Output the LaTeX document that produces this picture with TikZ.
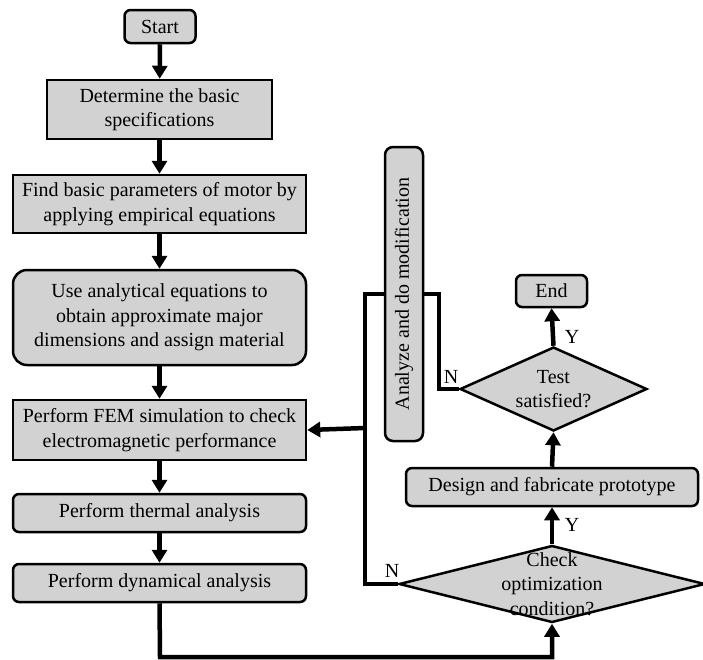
\documentclass[tikz,border=0pt]{standalone}
\usepackage{fontspec}
\setmainfont{Liberation Serif}
\usetikzlibrary{shapes.geometric,arrows.meta}
\definecolor{boxfill}{RGB}{210,210,210}
\begin{document}
\begin{tikzpicture}[x=1pt,y=-1pt,
  every node/.style={font=\fontsize{20}{24.5}\selectfont, align=center, inner sep=0pt},
  sqbox/.style={draw, line width=2.5pt, fill=boxfill},
  rbox/.style={draw, line width=2.5pt, fill=boxfill, rounded corners=6pt},
  dbox/.style={draw, line width=2.5pt, fill=boxfill, diamond},
  conn/.style={line width=4.5pt, -{Triangle[length=13pt,width=15pt]}},
  plain/.style={line width=4.5pt},
  lbl/.style={font=\fontsize{20}{24}\selectfont}]
\useasboundingbox (0,0) rectangle (703,659);
\node[rbox, minimum width=71pt, minimum height=33pt] (start) at (160,26.5) {Start};
\node[sqbox, minimum width=225pt, minimum height=59pt] (spec) at (159.5,109.5) {Determine the basic\\specifications};
\node[sqbox, minimum width=293pt, minimum height=58pt] (param) at (159.5,204) {Find basic parameters of motor by\\applying empirical equations};
\node[rbox, rounded corners=14pt, minimum width=293pt, minimum height=95pt] (anal) at (159.5,317.5) {Use analytical equations to\\obtain approximate major\\dimensions and assign material};
\node[sqbox, minimum width=293pt, minimum height=60pt] (fem) at (159.5,430) {Perform FEM simulation to check\\electromagnetic performance};
\node[rbox, minimum width=293pt, minimum height=38pt] (therm) at (159.5,513) {Perform thermal analysis};
\node[rbox, minimum width=293pt, minimum height=38pt] (dyn) at (159.5,583) {Perform dynamical analysis};
\node[rbox, rounded corners=8pt, minimum width=38pt, minimum height=294pt] (mod) at (404,294) {\rotatebox{90}{Analyze and do modification}};
\node[rbox, minimum width=71pt, minimum height=32pt] (end) at (551.5,291) {End};
\node[dbox, minimum width=187pt, minimum height=84pt] (test) at (553.5,389) {};
\node at (test) {Test\\satisfied?};
\node[rbox, minimum width=292pt, minimum height=38pt] (design) at (552,487) {Design and fabricate prototype};
\node[dbox, minimum width=306pt, minimum height=77pt] (check) at (552,584) {};
\node at (check) {Check\\optimization\\condition?};
\coordinate (bl) at (160,657);
\coordinate (br) at (552,657);
\coordinate (lx) at (365,428);
\draw[conn] (start) -- (spec);
\draw[conn] (spec) -- (param);
\draw[conn] (param) -- (anal);
\draw[conn] (anal) -- (fem);
\draw[conn] (fem) -- (therm);
\draw[conn] (therm) -- (dyn);
\draw[conn] (dyn.south) -- (bl) -- (br) -- (check.south);
\draw[conn] (check.north) -- (design.south);
\draw[conn] (design.north) -- (test.south);
\draw[conn] (test.north) -- (end.south);
\draw[plain] (test.west) -- (439,389) |- (mod.east);
\draw[plain] (mod.west) -- (365,294) -- (lx);
\draw[plain] (check.west) -- (365,584) -- (lx);
\draw[conn] (lx) -- (fem.east);
\node[lbl] at (572,337) {Y};
\node[lbl] at (572,525) {Y};
\node[lbl] at (451,377) {N};
\node[lbl] at (392,571) {N};
\end{tikzpicture}
\end{document}
